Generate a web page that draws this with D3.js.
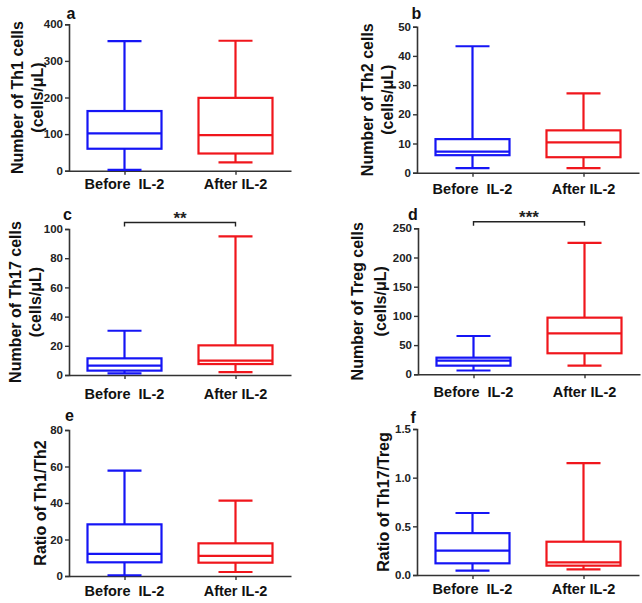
<!DOCTYPE html>
<html><head><meta charset="utf-8">
<script src="https://cdn.jsdelivr.net/npm/d3@7"></script>
<style>
html,body{margin:0;padding:0;background:#fff;}
svg{display:block;}
text{font-family:"Liberation Sans",Arial,sans-serif;}
</style></head>
<body>
<script>
// ---------- data ----------
const categories = ["Before  IL-2", "After IL-2"];
const panelLetters = ["a", "b", "c", "d", "e", "f"];
const yTitles = [
  ["Number of Th1 cells", "(cells/μL)"],
  ["Number of Th2 cells", "(cells/μL)"],
  ["Number of Th17 cells", "(cells/μL)"],
  ["Number of Treg cells", "(cells/μL)"],
  ["Ratio of Th1/Th2"],
  ["Ratio of Th17/Treg"]
];
const yTicks = [
  [0, 100, 200, 300, 400],
  [0, 10, 20, 30, 40, 50],
  [0, 20, 40, 60, 80, 100],
  [0, 50, 100, 150, 200, 250],
  [0, 20, 40, 60, 80],
  [0, 0.5, 1.0, 1.5]
];
// [min, q1, median, q3, max]
const th1Before = [2, 60, 102, 163, 354];
const th1After = [23, 47, 97, 199, 355];
const th2Before = [1.6, 6.0, 7.2, 11.5, 43.3];
const th2After = [1.6, 5.3, 10.4, 14.5, 27.2];
const th17Before = [1.1, 3.0, 6.4, 11.4, 30.3];
const th17After = [2.0, 7.5, 9.8, 20.3, 95];
const tregBefore = [6.5, 14.8, 23.5, 28.5, 65.6];
const tregAfter = [15, 36, 70, 97, 225];
const th1th2Before = [0.4, 7.5, 12.1, 28.3, 57.7];
const th1th2After = [2.2, 7.3, 11.0, 17.9, 41.3];
const th17tregBefore = [0.045, 0.12, 0.25, 0.43, 0.637];
const th17tregAfter = [0.058, 0.096, 0.13, 0.342, 1.15];
const significance = ["", "", "**", "***", "", ""];

// ---------- layout ----------
const W = 642, H = 603;
const layout = [
  {x0: 69,  top: 24.3,  bottom: 170.7, titleX: [17, 37],   labGap: 18.5, letter: [66.5, 18.5]},
  {x0: 417, top: 26.7,  bottom: 172.7, titleX: [367, 387], labGap: 21,   letter: [411.5, 18.5]},
  {x0: 69,  top: 229,   bottom: 375,   titleX: [15, 35],   labGap: 24,   letter: [63, 219.5]},
  {x0: 418, top: 228.3, bottom: 374.3, titleX: [357, 380], labGap: 22.5, letter: [408, 219.5]},
  {x0: 69,  top: 430,   bottom: 576,   titleX: [40],       labGap: 20,   letter: [65, 421]},
  {x0: 417, top: 429,   bottom: 575,   titleX: [383],      labGap: 18.5, letter: [410.5, 422.5]}
];
const plotW = 222, boxW = 74, capW = 34;
const blue = "#1515f5", red = "#f0161c", axisCol = "#333";
const colors = [blue, red];

const panelData = [
  [th1Before, th1After],
  [th2Before, th2After],
  [th17Before, th17After],
  [tregBefore, tregAfter],
  [th1th2Before, th1th2After],
  [th17tregBefore, th17tregAfter]
];

const svg = d3.select("body").append("svg").attr("width", W).attr("height", H);

panelData.forEach((series, i) => {
  const L = layout[i];
  const ticks = yTicks[i];
  const y = d3.scaleLinear().domain([0, ticks[ticks.length - 1]]).range([L.bottom, L.top]);
  const x = d3.scalePoint().domain(categories).range([L.x0, L.x0 + plotW]).padding(0.5);
  const g = svg.append("g");

  // y axis
  const fmt = i === 5 ? d3.format(".1f") : d3.format("d");
  const yAx = g.append("g").attr("transform", `translate(${L.x0},0)`)
    .call(d3.axisLeft(y).tickValues(ticks).tickFormat(fmt).tickSize(4).tickPadding(2));
  yAx.select(".domain").attr("stroke", axisCol).attr("stroke-width", 1.6);
  yAx.selectAll(".tick line").attr("stroke", axisCol).attr("stroke-width", 1.4);
  yAx.selectAll(".tick text").attr("fill", "#222").attr("font-size", 11.5).attr("font-weight", "bold")
    .attr("font-family", "Liberation Sans, Arial, sans-serif");

  // x axis
  const xAx = g.append("g").attr("transform", `translate(0,${L.bottom})`)
    .call(d3.axisBottom(x).tickSize(4).tickSizeOuter(0).tickFormat(""));
  xAx.select(".domain").attr("stroke", axisCol).attr("stroke-width", 1.6);
  xAx.selectAll(".tick line").attr("stroke", axisCol).attr("stroke-width", 1.4);

  // x labels
  g.selectAll("text.xl").data(categories).join("text").attr("class", "xl")
    .attr("x", d => x(d)).attr("y", L.bottom + L.labGap)
    .attr("text-anchor", "middle").attr("font-size", 14.5).attr("font-weight", "bold")
    .attr("fill", "#111").style("white-space", "pre").text(d => d);

  // boxes
  series.forEach((s, k) => {
    const cx = x(categories[k]);
    const c = colors[k];
    const bg = g.append("g").attr("stroke", c).attr("stroke-width", 2.2).attr("fill", "none");
    bg.append("line").attr("x1", cx).attr("x2", cx).attr("y1", y(s[4])).attr("y2", y(s[3]));
    bg.append("line").attr("x1", cx).attr("x2", cx).attr("y1", y(s[1])).attr("y2", y(s[0]));
    bg.append("line").attr("x1", cx - capW / 2).attr("x2", cx + capW / 2).attr("y1", y(s[4])).attr("y2", y(s[4]));
    bg.append("line").attr("x1", cx - capW / 2).attr("x2", cx + capW / 2).attr("y1", y(s[0])).attr("y2", y(s[0]));
    bg.append("rect").attr("x", cx - boxW / 2).attr("width", boxW)
      .attr("y", y(s[3])).attr("height", y(s[1]) - y(s[3]));
    bg.append("line").attr("x1", cx - boxW / 2).attr("x2", cx + boxW / 2).attr("y1", y(s[2])).attr("y2", y(s[2]));
  });

  // y title
  const midY = (L.top + L.bottom) / 2;
  yTitles[i].forEach((t, j) => {
    g.append("text").attr("transform", `translate(${L.titleX[j]},${midY}) rotate(-90)`)
      .attr("text-anchor", "middle").attr("dominant-baseline", "central")
      .attr("font-size", 16).attr("font-weight", "bold").attr("fill", "#111").text(t);
  });

  // panel letter
  g.append("text").attr("x", L.letter[0]).attr("y", L.letter[1])
    .attr("font-size", 16).attr("font-weight", "bold").attr("fill", "#111").text(panelLetters[i]);

  // significance bracket
  if (significance[i]) {
    const by = L.top - 6.5;
    const x1 = x(categories[0]), x2 = x(categories[1]);
    g.append("path").attr("d", `M${x1},${by + 4}V${by}H${x2}V${by + 4}`)
      .attr("fill", "none").attr("stroke", "#222").attr("stroke-width", 1.4);
    g.append("text").attr("x", (x1 + x2) / 2).attr("y", by + 1)
      .attr("text-anchor", "middle").attr("font-size", 17).attr("font-weight", "bold")
      .attr("font-family", "DejaVu Sans, sans-serif")
      .attr("fill", "#222").text(significance[i]);
  }
});
</script>
</body></html>
